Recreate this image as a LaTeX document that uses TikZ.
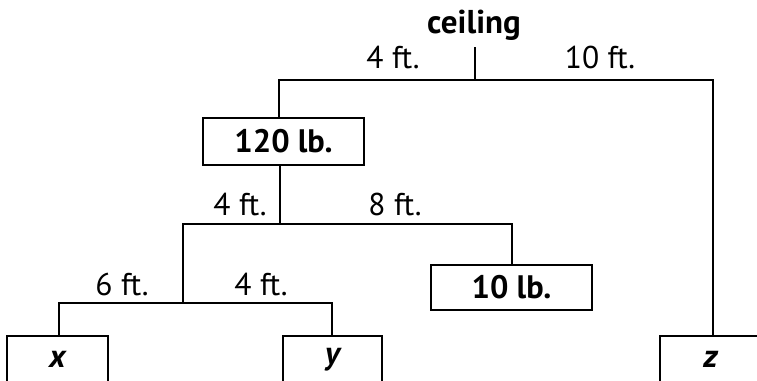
\documentclass[tikz,border=0pt]{standalone}
\usepackage{fontspec}
\setmainfont{PT Sans}
\begin{document}
\begin{tikzpicture}[
    x=1pt, y=-1pt,
    % Known weights (bold)
    wbox/.style={rectangle, draw=black, line width=1.3pt, inner sep=0pt,
                 minimum width=161pt, minimum height=47pt,
                 font=\fontsize{32.5}{36}\selectfont\bfseries},
    % Unknown weights (bold italic)
    ubox/.style={wbox, minimum width=101pt,
                 font=\fontsize{32.5}{36}\selectfont\bfseries\itshape},
    % Arm lengths
    dist/.style={anchor=base, font=\fontsize{31.5}{35}\selectfont},
    beam/.style={line width=1.3pt, black}
]
\path[use as bounding box, clip] (0,0) rectangle (757,380);

%-------- CEILING --------
\node[anchor=base, font=\fontsize{33}{37}\selectfont\bfseries] (ceil) at (474,33) {ceiling};
\coordinate (hang) at (475,47);

%-------- BEAM POINTS --------
\coordinate (b1l) at (279,80);  \coordinate (b1r) at (713,80);
\coordinate (p2)  at (280,224);
\coordinate (b2l) at (183,224); \coordinate (b2r) at (512,224);
\coordinate (p3)  at (183,303);
\coordinate (b3l) at (59,303);  \coordinate (b3r) at (332,303);

%-------- WEIGHTS --------
\node[wbox] (w120) at (283.5,141.5) {120 lb.};
\node[wbox, minimum height=45pt] (w10) at (511.5,287.5) {10 lb.};
\node[ubox] (wx) at (57.5,359.5) {x};
\node[ubox, minimum width=99pt] (wy) at (332.5,359.5) {y};
\node[ubox] (wz) at (710.5,359.5) {z};

%-------- STRINGS AND BARS --------
\draw[beam] (hang) -- (hang |- b1l);
\draw[beam] (w120.north -| b1l) -- (b1l) -- (b1r) -- (wz.north -| b1r);
\draw[beam] (w120.south -| p2) -- (p2);
\draw[beam] (w10.north -| b2r) -- (b2r) -- (b2l) -- (p3);
\draw[beam] (wx.north -| b3l) -- (b3l) -- (b3r) -- (wy.north -| b3r);

%-------- LENGTHS --------
\node[dist] (d1) at (393,68)  {4 ft.};
\node[dist] (d2) at (600,68)  {10 ft.};
\node[dist] (d3) at (240,215) {4 ft.};
\node[dist] (d4) at (395,215) {8 ft.};
\node[dist] (d5) at (122,295) {6 ft.};
\node[dist] (d6) at (261,295) {4 ft.};

\end{tikzpicture}
\end{document}
